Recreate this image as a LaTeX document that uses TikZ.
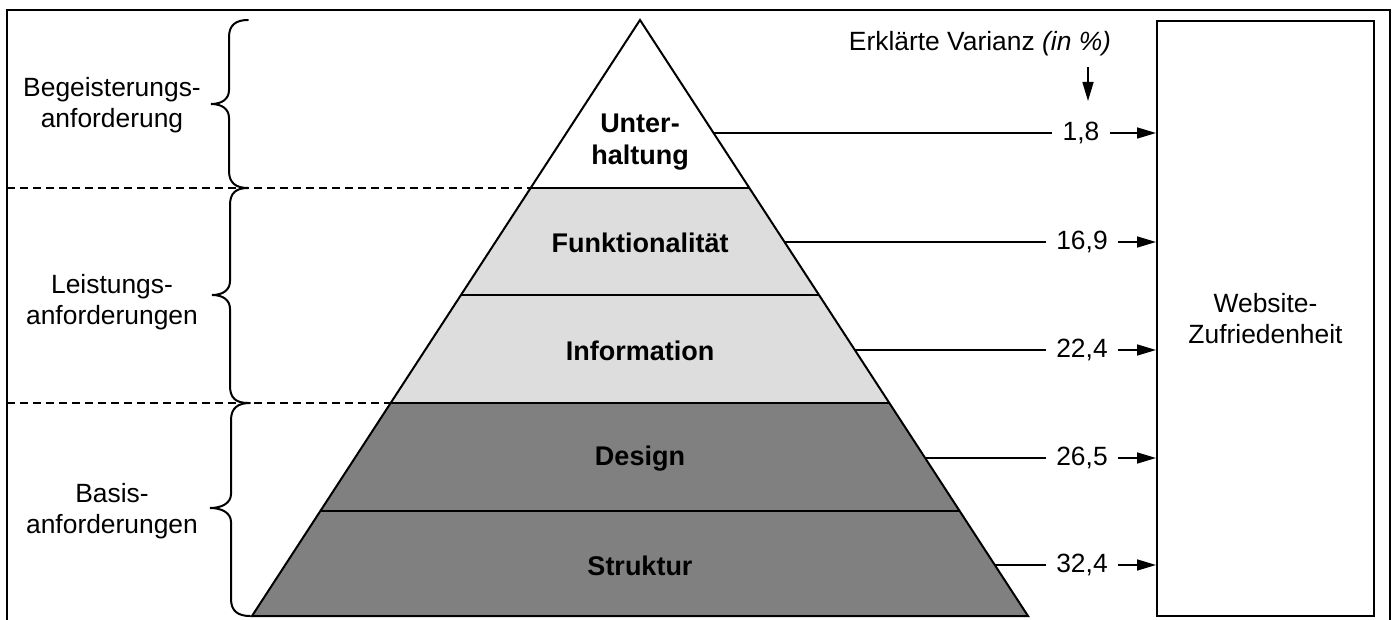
\documentclass[tikz,border=0pt]{standalone}
\usepackage{fontspec}
\setmainfont{Liberation Sans}
\usetikzlibrary{arrows.meta}
\definecolor{lightlayer}{HTML}{DDDDDD}
\definecolor{darklayer}{HTML}{808080}
\begin{document}
\begin{tikzpicture}[x=0.5pt,y=-0.5pt,
  every node/.style={font=\fontsize{13.2}{15.3}\selectfont, inner sep=0pt},
  layer/.style={draw=black, line width=1pt, line join=miter},
  lbl/.style={font=\fontsize{13.5}{16}\selectfont\bfseries, align=center},
  side/.style={align=center},
  val/.style={inner xsep=5pt, inner ysep=2pt},
  conn/.style={line width=0.8pt},
  arr/.style={line width=0.8pt, -{Triangle[length=9.5pt,width=5.5pt]}},
  bracepath/.style={line width=1pt, line cap=round},
  sep/.style={line width=0.9pt, dash pattern=on 4pt off 2.5pt}
]
\useasboundingbox (0,0) rectangle (1394,620);
% outer frame
\draw[line width=1pt] (7,10) rectangle (1390,624);

% pyramid layers
\fill[white] (640,20) -- (749.4,188) -- (530.6,188) -- cycle;
\fill[lightlayer] (530.6,188) -- (749.4,188) -- (889.3,403) -- (390.7,403) -- cycle;
\fill[darklayer] (390.7,403) -- (889.3,403) -- (1028,616) -- (252,616) -- cycle;
\draw[layer] (640,20) -- (1028,616) -- (252,616) -- cycle;
\draw[layer] (530.6,188) -- (749.4,188);
\draw[layer] (461,295) -- (819,295);
\draw[layer] (390.7,403) -- (889.3,403);
\draw[layer] (320.4,511) -- (959.6,511);

% dashed separators
\coordinate (d1) at (7,188);
\coordinate (p1) at (530.6,188);
\coordinate (d2) at (7,403);
\coordinate (p2) at (390.7,403);
\draw[sep] (d1) -- (p1);
\draw[sep] (d2) -- (p2);

% braces
\draw[bracepath] (248,20) .. controls (236,20) and (229,25) .. (229,37) -- (229,90)
  .. controls (229,99) and (222,104) .. (211,104)
  .. controls (222,104) and (229,109) .. (229,118) -- (229,171)
  .. controls (229,183) and (236,188) .. (248,188);
\draw[bracepath] (248,188) .. controls (236,188) and (230,193) .. (230,205) -- (230,281)
  .. controls (230,290) and (223,295) .. (212,295)
  .. controls (223,295) and (230,300) .. (230,309) -- (230,386)
  .. controls (230,398) and (236,403) .. (248,403);
\draw[bracepath] (250,403) .. controls (238,403) and (231,408) .. (231,420) -- (231,494)
  .. controls (231,503) and (222,508) .. (210,508)
  .. controls (222,508) and (231,513) .. (231,522) -- (231,599)
  .. controls (231,611) and (238,616) .. (250,616);

% side labels
\node[side] (s1) at (112,105) {Begeisterungs-\\anforderung};
\node[side] (s2) at (112,302) {Leistungs-\\anforderungen};
\node[side] (s3) at (112,511) {Basis-\\anforderungen};

% layer labels
\node[lbl] (l1) at (640,142) {Unter-\\haltung};
\node[lbl] (l2) at (640,243) {Funktionalit\"at};
\node[lbl] (l3) at (640,351) {Information};
\node[lbl] (l4) at (640,459) {Design};
\node[lbl] (l5) at (640,566) {Struktur};

% right box
\node[draw, line width=1pt, minimum width=217pt*0.5, minimum height=595pt*0.5, align=center] (box) at (1265.5,318.5) {Website-\\Zufriedenheit};

% header
\node (hdr) at (980,44) {Erkl\"arte Varianz \textit{(in \%)}};
\coordinate (ha) at (1088,67);
\coordinate (hb) at (1088,101);
\draw[arr] (ha) -- (hb);

% edge points
\coordinate (e1) at (713.6,133);
\coordinate (e2) at (784.5,242);
\coordinate (e3) at (854.8,350);
\coordinate (e4) at (925.1,458);
\coordinate (e5) at (994.8,565);

% values
\node[val] (v1) at (1081,133) {1,8};
\node[val] (v2) at (1082,242) {16,9};
\node[val] (v3) at (1082,350) {22,4};
\node[val] (v4) at (1082,458) {26,5};
\node[val] (v5) at (1082,565) {32,4};

\foreach \i in {1,...,5} {
  \draw[conn] (e\i) -- (v\i.west);
  \draw[arr] (v\i.east) -- (v\i.east -| box.west);
}
\end{tikzpicture}
\end{document}
